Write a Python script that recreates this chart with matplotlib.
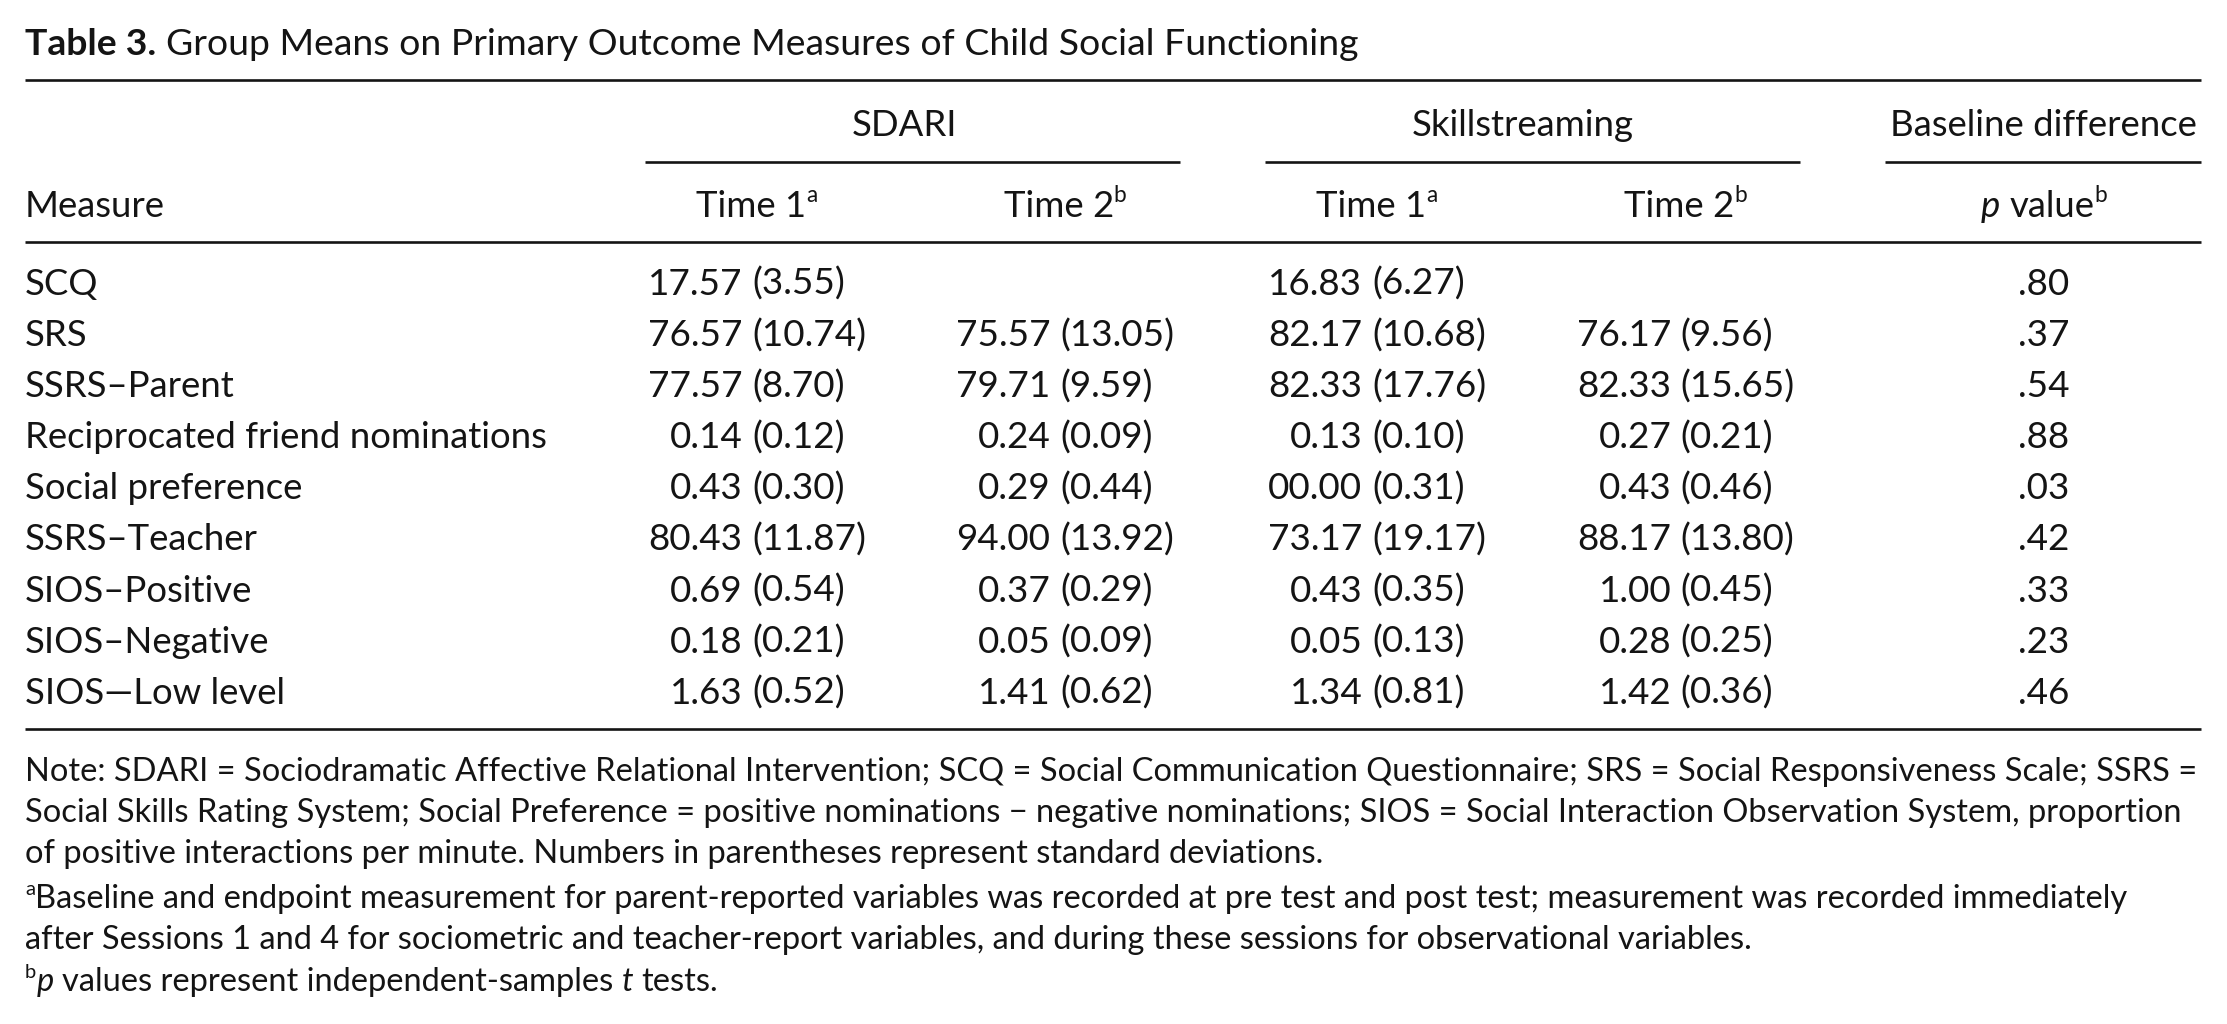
import matplotlib
matplotlib.use("Agg")
import matplotlib.pyplot as plt

# ---------------- data ----------------
title_bold = "Table 3."
title_rest = " Group Means on Primary Outcome Measures of Child Social Functioning"

group_headers = ["SDARI", "Skillstreaming", "Baseline difference"]
time_headers = ["Time 1", "Time 2", "Time 1", "Time 2"]
time_sups = ["a", "b", "a", "b"]

measures = ["SCQ", "SRS", "SSRS\u2013Parent", "Reciprocated friend nominations",
            "Social preference", "SSRS\u2013Teacher", "SIOS\u2013Positive",
            "SIOS\u2013Negative", "SIOS\u2014Low level"]
sdari_t1_mean = ["17.57", "76.57", "77.57", "0.14", "0.43", "80.43", "0.69", "0.18", "1.63"]
sdari_t1_sd = ["3.55", "10.74", "8.70", "0.12", "0.30", "11.87", "0.54", "0.21", "0.52"]
sdari_t2_mean = [None, "75.57", "79.71", "0.24", "0.29", "94.00", "0.37", "0.05", "1.41"]
sdari_t2_sd = [None, "13.05", "9.59", "0.09", "0.44", "13.92", "0.29", "0.09", "0.62"]
skill_t1_mean = ["16.83", "82.17", "82.33", "0.13", "00.00", "73.17", "0.43", "0.05", "1.34"]
skill_t1_sd = ["6.27", "10.68", "17.76", "0.10", "0.31", "19.17", "0.35", "0.13", "0.81"]
skill_t2_mean = [None, "76.17", "82.33", "0.27", "0.43", "88.17", "1.00", "0.28", "1.42"]
skill_t2_sd = [None, "9.56", "15.65", "0.21", "0.46", "13.80", "0.45", "0.25", "0.36"]
p_values = [".80", ".37", ".54", ".88", ".03", ".42", ".33", ".23", ".46"]

note_lines = [
    [("Note: SDARI = Sociodramatic Affective Relational Intervention; SCQ = Social Communication "
      "Questionnaire; SRS = Social Responsiveness Scale; SSRS =", {})],
    [("Social Skills Rating System; Social Preference = positive nominations \u2212 negative "
      "nominations; SIOS = Social Interaction Observation System, proportion", {})],
    [("of positive interactions per minute. Numbers in parentheses represent standard deviations.", {})],
    [("a", {"sup": True}),
     ("Baseline and endpoint measurement for parent-reported variables was recorded at pre test "
      "and post test; measurement was recorded immediately", {})],
    [("after Sessions 1 and 4 for sociometric and teacher-report variables, and during these "
      "sessions for observational variables.", {})],
    [("b", {"sup": True}), ("p", {"style": "italic"}),
     (" values represent independent-samples ", {}), ("t", {"style": "italic"}), (" tests.", {})],
]

# ---------------- layout ----------------
W, H = 2227, 1024
X0, X1 = 25, 2201
col_centers = [757, 1065, 1377, 1686]
p_center = 2044
group_spans = [(645, 1180), (1265, 1800), (1885, 2201)]
group_centers = [904, 1523, 2043]
y_title = 55
y_top_rule = 80
y_group = 136
y_group_rule = 162
y_colhead = 217
y_head_rule = 242
y_row0 = 295
row_step = 51.1
y_bottom_rule = 729
y_notes = [781, 822, 863, 908, 949, 991]

INK = "#141414"
FAM = ["Lato", "DejaVu Sans"]
SUP_SCALE = 0.62
RULE_LW = 1.9

fig = plt.figure(figsize=(W / 100, H / 100), dpi=100)
fig.patch.set_facecolor("white")
ax = fig.add_axes([0, 0, 1, 1])
ax.set_xlim(0, W)
ax.set_ylim(H, 0)
ax.axis("off")
fig.canvas.draw()
R = fig.canvas.get_renderer()


def _ext(txt, size, weight, style):
    t = ax.text(0, 0, txt, fontsize=size, family=FAM, weight=weight, style=style)
    w = t.get_window_extent(R).width
    t.remove()
    return w


def width(s, size, weight="normal", style="normal"):
    if not s:
        return 0.0
    return _ext("H" + s + "H", size, weight, style) - _ext("HH", size, weight, style)


def run_size(o, size):
    return size * SUP_SCALE if o.get("sup") else size


def runs_width(runs, size):
    return sum(width(s, run_size(o, size), o.get("weight", "normal"), o.get("style", "normal"))
               for s, o in runs)


def draw_runs(x, y, runs, size, ha="left"):
    tw = runs_width(runs, size)
    if ha == "center":
        x -= tw / 2
    elif ha == "right":
        x -= tw
    em = size * 100 / 72
    for s, o in runs:
        sz = run_size(o, size)
        wgt = o.get("weight", "normal")
        sty = o.get("style", "normal")
        dy = -0.40 * em if o.get("sup") else 0
        stripped = s.lstrip(" ")
        lead = s[: len(s) - len(stripped)]
        xx = x + width(lead, sz, wgt, sty)
        if stripped:
            ax.text(xx, y + dy, stripped, fontsize=sz, family=FAM, weight=wgt, style=sty,
                    va="baseline", ha="left", color=INK)
        x += width(s, sz, wgt, sty)


# fit font sizes to the reference widths
base = 20.0
note_size = base * (2172 / runs_width(note_lines[0], base))
table_size = base * (523 / runs_width([(measures[3], {})], base))
cell_size = base * (218 / runs_width([("76.57 (10.74)", {})], base))
title_runs = [(title_bold, {"weight": "bold"}), (title_rest, {})]
title_size = base * (1334 / runs_width(title_runs, base))

# title
draw_runs(X0, y_title, title_runs, title_size)

# rules
ax.hlines([y_top_rule, y_head_rule, y_bottom_rule], X0, X1, color=INK, lw=RULE_LW)
for (a, b) in group_spans:
    ax.hlines(y_group_rule, a, b, color=INK, lw=RULE_LW)

# group headers
for name, gx in zip(group_headers, group_centers):
    draw_runs(gx, y_group, [(name, {})], table_size, ha="center")

# column headers
draw_runs(X0, y_colhead, [("Measure", {})], table_size)
for cx, th, sp in zip(col_centers, time_headers, time_sups):
    draw_runs(cx, y_colhead, [(th, {}), (sp, {"sup": True})], table_size, ha="center")
draw_runs(p_center, y_colhead,
          [("p", {"style": "italic"}), (" value", {}), ("b", {"sup": True})],
          table_size, ha="center")

# body
columns = [(sdari_t1_mean, sdari_t1_sd), (sdari_t2_mean, sdari_t2_sd),
           (skill_t1_mean, skill_t1_sd), (skill_t2_mean, skill_t2_sd)]
space_w = width(" ", cell_size)
for i, m in enumerate(measures):
    y = y_row0 + i * row_step
    draw_runs(X0, y, [(m, {})], table_size)
    draw_runs(p_center, y, [(p_values[i], {})], cell_size, ha="center")

for cx, (means, sds) in zip(col_centers, columns):
    mw = max(width(v, cell_size) for v in means if v)
    sw = max(width("(" + v + ")", cell_size) for v in sds if v)
    left = cx - (mw + space_w + sw) / 2
    split = left + mw
    for i, (mv, sv) in enumerate(zip(means, sds)):
        if mv is None:
            continue
        y = y_row0 + i * row_step
        draw_runs(split, y, [(mv, {})], cell_size, ha="right")
        draw_runs(split + space_w, y, [("(" + sv + ")", {})], cell_size)

# notes
for y, runs in zip(y_notes, note_lines):
    draw_runs(X0, y, runs, note_size)

fig.savefig("out.png", dpi=100, facecolor="white")
